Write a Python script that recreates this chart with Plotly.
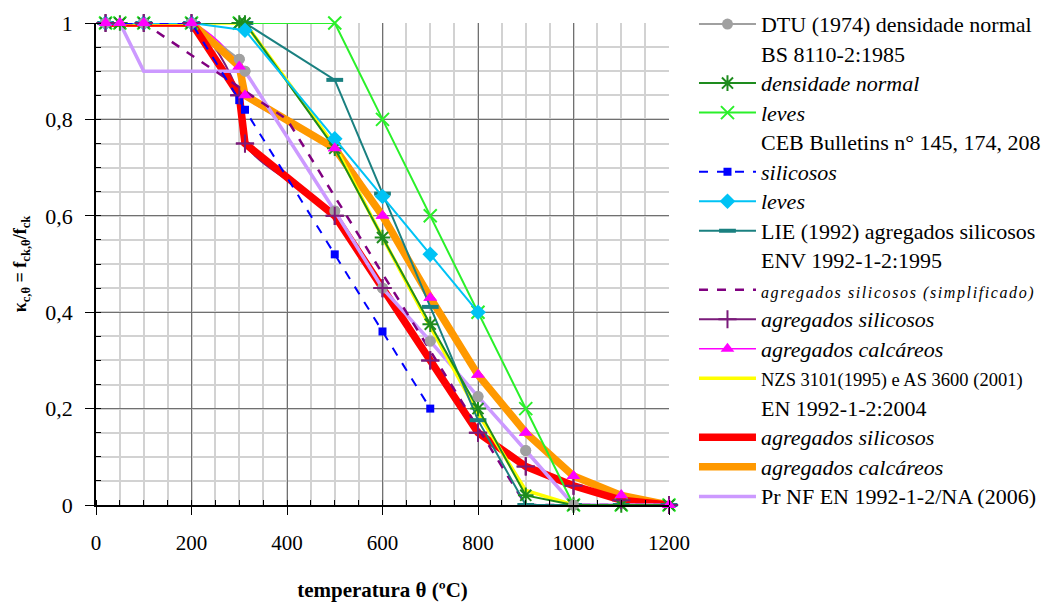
import plotly.graph_objects as go

# ---------------- data ----------------
dtu_x = [20, 100, 200, 300, 312, 500, 600, 700, 800, 900, 1000]
dtu_y = [1, 1, 1, 0.925, 0.90, 0.61, 0.45, 0.34, 0.225, 0.113, 0]

bs_dense_x = [20, 50, 100, 200, 300, 312, 500, 600, 700, 800, 900, 1000, 1100, 1200]
bs_dense_y = [1, 1, 1, 1, 1, 1, 0.74, 0.555, 0.375, 0.2, 0.02, 0, 0, 0]

bs_light_x = [20, 50, 100, 200, 300, 500, 600, 700, 800, 900, 1000, 1100, 1200]
bs_light_y = [1, 1, 1, 1, 1, 1, 0.8, 0.6, 0.4, 0.2, 0, 0, 0]

ceb_sil_x = [20, 100, 200, 300, 312, 500, 600, 700]
ceb_sil_y = [1, 1, 1, 0.84, 0.82, 0.52, 0.36, 0.2]

ceb_light_x = [20, 100, 200, 312, 500, 600, 700, 800]
ceb_light_y = [1, 1, 1, 0.985, 0.76, 0.64, 0.52, 0.4]

lie_x = [20, 100, 200, 312, 500, 600, 700, 800, 900, 1000, 1100, 1200]
lie_y = [1, 1, 1, 1, 0.882, 0.646, 0.411, 0.176, 0, 0, 0, 0]

env_simp_x = [20, 100, 400, 900, 1000, 1100, 1200]
env_simp_y = [1, 1, 0.8, 0, 0, 0, 0]

env_sil_x = [20, 100, 200, 300, 312, 500, 600, 700, 800, 900, 1000, 1100, 1200]
env_sil_y = [1, 1, 1, 0.85, 0.75, 0.6, 0.45, 0.3, 0.15, 0.08, 0.04, 0.01, 0]

env_cal_x = [20, 50, 100, 200, 300, 312, 500, 600, 700, 800, 900, 1000, 1100, 1200]
env_cal_y = [1, 1, 1, 1, 0.91, 0.85, 0.74, 0.6, 0.43, 0.27, 0.15, 0.06, 0.02, 0]

nzs_x = [20, 100, 200, 312, 500, 600, 700, 800, 900, 1000]
nzs_y = [1, 1, 1, 1, 0.745, 0.555, 0.37, 0.19, 0.03, 0]

en_sil_x = [20, 100, 200, 300, 312, 500, 600, 700, 800, 900, 1000, 1100, 1200]
en_sil_y = [1, 1, 1, 0.85, 0.75, 0.6, 0.45, 0.3, 0.15, 0.08, 0.04, 0.01, 0]

en_cal_x = [20, 100, 200, 300, 312, 500, 600, 700, 800, 900, 1000, 1100, 1200]
en_cal_y = [1, 1, 1, 0.91, 0.85, 0.74, 0.6, 0.43, 0.27, 0.15, 0.06, 0.02, 0]

prnf_x = [20, 50, 100, 312, 500, 600, 700, 800, 900, 1000, 1200]
prnf_y = [1, 1, 0.9, 0.9, 0.61, 0.45, 0.34, 0.225, 0.113, 0, 0]

x_tickvals = [0, 200, 400, 600, 800, 1000, 1200]
x_ticktext = ["0", "200", "400", "600", "800", "1000", "1200"]
y_tickvals = [0, 0.2, 0.4, 0.6, 0.8, 1]
y_ticktext = ["0", "0,2", "0,4", "0,6", "0,8", "1"]

legend_names = {
    "dtu": "DTU (1974) densidade normal",
    "h_bs": "BS 8110-2:1985",
    "bs_dense": "<i>densidade normal</i>",
    "bs_light": "<i>leves</i>",
    "h_ceb": "CEB Bulletins n° 145, 174, 208",
    "ceb_sil": "<i>silicosos</i>",
    "ceb_light": "<i>leves</i>",
    "lie": "LIE (1992) agregados silicosos",
    "h_env": "ENV 1992-1-2:1995",
    "env_simp": "<i>agregados silicosos (simplificado)</i>",
    "env_sil": "<i>agregados silicosos</i>",
    "env_cal": "<i>agregados calcáreos</i>",
    "nzs": "NZS 3101(1995) e AS 3600 (2001)",
    "h_en": "EN 1992-1-2:2004",
    "en_sil": "<i>agregados silicosos</i>",
    "en_cal": "<i>agregados calcáreos</i>",
    "prnf": "Pr NF EN 1992-1-2/NA (2006)",
}
legend_styles = {
    "env_simp": "font-size:16px;letter-spacing:1.6px",
    "nzs": "font-size:18.5px",
}
order = list(legend_names.keys())


def label(key):
    style = legend_styles.get(key, "font-size:22px")
    return "<span style='%s'>%s</span>" % (style, legend_names[key])


fig = go.Figure()


def add(key, x, y, color, width, dash="solid", symbol=None, msize=8,
        mline=0, shape="linear", legend=True, markers_only=False):
    if markers_only:
        mode = "markers"
    else:
        mode = "lines+markers" if symbol else "lines"
    marker = dict(symbol=symbol, size=msize, color=color,
                  line=dict(color=color, width=mline)) if symbol else None
    fig.add_trace(go.Scatter(
        x=x, y=y, mode=mode, name=label(key), showlegend=legend,
        line=dict(color=color, width=width, dash=dash, shape=shape,
                  smoothing=1.0 if shape == "spline" else None),
        marker=marker, cliponaxis=False,
        legendrank=order.index(key) + 1))


def header(key):
    fig.add_trace(go.Scatter(
        x=[None], y=[None], mode="lines", name=label(key),
        line=dict(color="rgba(0,0,0,0)", width=1),
        legendrank=order.index(key) + 1))


DTU_C, SIL_C, CAL_C = "#a0a0a0", "#7a1a7a", "#ff00ff"

# lines drawn beneath the thick curves
add("env_sil", env_sil_x, env_sil_y, SIL_C, 2, symbol="cross-thin-open", msize=13, mline=2, shape="spline")
add("env_cal", env_cal_x, env_cal_y, CAL_C, 1.5, symbol="triangle-up", msize=12, shape="spline")
add("dtu", dtu_x, dtu_y, DTU_C, 2, symbol="circle", msize=11)
# thick lines
add("en_cal", en_cal_x, en_cal_y, "#ff9900", 7.5)
add("en_sil", en_sil_x, en_sil_y, "#ff0000", 7.5)
add("prnf", prnf_x, prnf_y, "#cc99ff", 3.5)
add("nzs", nzs_x, nzs_y, "#ffff00", 3.5)
# thin lines on top
add("env_simp", env_simp_x, env_simp_y, "#800080", 2.5, dash="dash")
add("lie", lie_x, lie_y, "#1a8080", 2, symbol="line-ew-open", msize=12, mline=4)
add("bs_light", bs_light_x, bs_light_y, "#2af02a", 2, symbol="x-thin-open", msize=13, mline=2)
add("bs_dense", bs_dense_x, bs_dense_y, "#1e8c1e", 2, symbol="asterisk-open", msize=13, mline=2)
add("ceb_light", ceb_light_x, ceb_light_y, "#00c3f5", 2, symbol="diamond", msize=12)
add("ceb_sil", ceb_sil_x, ceb_sil_y, "#0000ff", 2, dash="dash", symbol="square", msize=8)
# marker overlays for series whose lines sit under the thick curves
add("dtu", dtu_x, dtu_y, DTU_C, 2, symbol="circle", msize=11, legend=False, markers_only=True)
add("env_sil", env_sil_x, env_sil_y, SIL_C, 2, symbol="cross-thin-open", msize=13, mline=2,
    legend=False, markers_only=True)
add("env_cal", env_cal_x, env_cal_y, CAL_C, 1.5, symbol="triangle-up", msize=12,
    legend=False, markers_only=True)
for h in ["h_bs", "h_ceb", "h_env", "h_en"]:
    header(h)

serif = "Liberation Serif, Times New Roman, serif"

fig.update_layout(
    width=1046, height=604,
    margin=dict(l=96, r=377, t=23, b=99, autoexpand=False),
    paper_bgcolor="white", plot_bgcolor="white",
    font=dict(family=serif, color="black", size=20),
    showlegend=True,
    legend=dict(x=1.0436, y=1.0388, xanchor="left", yanchor="top",
                font=dict(family=serif, size=20.4, color="black"),
                bgcolor="rgba(0,0,0,0)", itemwidth=57, maxheight=620,
                traceorder="normal"),
    xaxis=dict(
        range=[0, 1200], tickvals=x_tickvals, ticktext=x_ticktext, automargin=False,
        showline=True, linecolor="black", linewidth=1.5,
        ticks="outside", ticklen=8, tickcolor="black", ticklabelstandoff=10,
        showgrid=True, gridcolor="#707070", gridwidth=1, zeroline=False,
        tickfont=dict(family=serif, size=21),
        minor=dict(dtick=50, tick0=0, ticks="inside", ticklen=5, tickcolor="black",
                   showgrid=True, gridcolor="#d2d2d2", gridwidth=1.5),
        title=dict(text="<b>temperatura θ (ºC)</b>", font=dict(family=serif, size=21),
                   standoff=28),
    ),
    yaxis=dict(
        range=[0, 1], tickvals=y_tickvals, ticktext=y_ticktext, automargin=False,
        showline=True, linecolor="black", linewidth=1.5,
        ticks="outside", ticklen=9, tickcolor="black", ticklabelstandoff=8,
        showgrid=True, gridcolor="#707070", gridwidth=1, zeroline=False,
        tickfont=dict(family=serif, size=22),
        minor=dict(dtick=0.05, tick0=0, ticks="inside", ticklen=5, tickcolor="black",
                   showgrid=True, gridcolor="#d2d2d2", gridwidth=1.5),
        title=dict(text="<b>κ<sub>c,θ</sub> = f<sub>ck,θ</sub>/f<sub>ck</sub></b>",
                   font=dict(family=serif, size=18), standoff=14),
    ),
)

fig.write_html("out.html")
